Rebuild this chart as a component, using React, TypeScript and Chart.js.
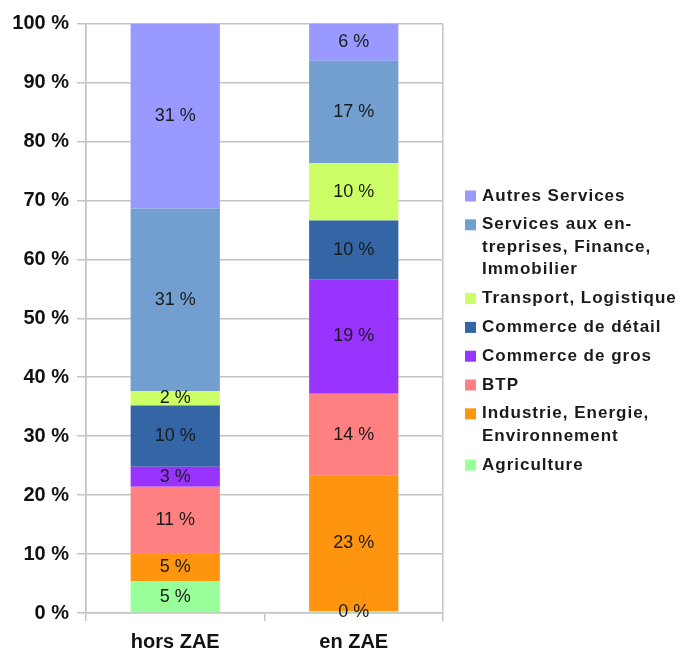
import React, { useEffect, useRef } from "react";
import { Chart, registerables } from "chart.js";

Chart.register(...registerables);

const categories = ["hors ZAE", "en ZAE"];

const sectorNames = [
  "Agriculture",
  "Industrie, Energie, Environnement",
  "BTP",
  "Commerce de gros",
  "Commerce de détail",
  "Transport, Logistique",
  "Services aux entreprises, Finance, Immobilier",
  "Autres Services",
];

const legendLines = [
  ["Agriculture"],
  ["Industrie, Energie,", "Environnement"],
  ["BTP"],
  ["Commerce de gros"],
  ["Commerce de détail"],
  ["Transport, Logistique"],
  ["Services aux en-", "treprises, Finance,", "Immobilier"],
  ["Autres Services"],
];

const sectorColors = [
  "#99ff99",
  "#ff950e",
  "#ff8080",
  "#9933ff",
  "#3465a4",
  "#ccff66",
  "#729fcf",
  "#9999ff",
];

// shares (%) per sector: [hors ZAE, en ZAE]
const agriculture = [5.4, 0.3];
const industrie = [4.7, 23.0];
const btp = [11.3, 13.9];
const commerceGros = [3.4, 19.4];
const commerceDetail = [10.4, 10.0];
const transport = [2.4, 9.7];
const servicesEntreprises = [31.0, 17.4];
const autresServices = [31.4, 6.3];

const seriesValues = [
  agriculture,
  industrie,
  btp,
  commerceGros,
  commerceDetail,
  transport,
  servicesEntreprises,
  autresServices,
];

const yTicks = [0, 10, 20, 30, 40, 50, 60, 70, 80, 90, 100];

const GRID = "#c4c4c4";

const valueLabelPlugin = {
  id: "valueLabels",
  afterDatasetsDraw(chart: any) {
    const ctx = chart.ctx;
    ctx.save();
    ctx.font = '18px "Liberation Sans"';
    ctx.fillStyle = "#1a1a1a";
    ctx.textAlign = "center";
    ctx.textBaseline = "middle";
    chart.data.datasets.forEach((ds: any, di: number) => {
      const meta = chart.getDatasetMeta(di);
      meta.data.forEach((el: any, i: number) => {
        const v = ds.data[i];
        const y = (el.y + el.base) / 2;
        ctx.fillText(`${Math.round(v)} %`, el.x, y);
      });
    });
    ctx.restore();
  },
};

const legendPlugin = {
  id: "sideLegend",
  afterDraw(chart: any) {
    const ctx = chart.ctx;
    ctx.save();
    ctx.font = 'bold 17px "Liberation Sans"';
    (ctx as any).letterSpacing = "1px";
    ctx.textAlign = "left";
    ctx.textBaseline = "middle";
    const boxX = chart.chartArea.right + 22;
    const textX = boxX + 17;
    let y = 196;
    const lineStep = 22.5;
    const gap = 6.3;
    for (let k = legendLines.length - 1; k >= 0; k--) {
      const lines = legendLines[k];
      ctx.fillStyle = sectorColors[k];
      ctx.fillRect(boxX, y - 5.5, 11, 11);
      ctx.fillStyle = "#1a1a1a";
      lines.forEach((ln, j) => {
        ctx.fillText(ln, textX, y + j * lineStep);
      });
      y += (lines.length - 1) * lineStep + lineStep + gap;
    }
    ctx.restore();
  },
};

export default function App() {
  const ref = useRef<HTMLCanvasElement | null>(null);
  useEffect(() => {
    document.body.style.margin = "0";
    const canvas = ref.current!;
    const chart = new Chart(canvas, {
      type: "bar",
      data: {
        labels: categories,
        datasets: seriesValues.map((vals, i) => ({
          label: sectorNames[i],
          data: vals,
          backgroundColor: sectorColors[i],
          borderWidth: 0,
          categoryPercentage: 1,
          barPercentage: 0.5,
        })),
      },
      options: {
        animation: false,
        responsive: false,
        layout: { padding: { top: 23.5, right: 239, left: 0, bottom: 0 } },
        plugins: {
          legend: { display: false },
          tooltip: { enabled: false },
        },
        scales: {
          x: {
            stacked: true,
            afterFit: (s: any) => {
              s.height = 36;
            },
            grid: {
              offset: true,
              drawOnChartArea: true,
              color: (c: any) => (c.index === 1 ? "rgba(0,0,0,0)" : GRID),
              tickColor: GRID,
              tickLength: 8,
              lineWidth: 1.5,
            },
            border: { display: true, color: GRID, width: 1.5 },
            ticks: {
              font: { family: "Liberation Sans", size: 20, weight: "bold" },
              color: "#111",
              padding: 9,
            },
          },
          y: {
            stacked: true,
            min: 0,
            max: 100,
            afterFit: (s: any) => {
              s.width = 86;
            },
            afterBuildTicks: (s: any) => {
              s.ticks = yTicks.map((v) => ({ value: v }));
            },
            grid: {
              color: GRID,
              lineWidth: 1.5,
              tickLength: 9,
            },
            border: { display: true, color: GRID, width: 1.5 },
            ticks: {
              font: { family: "Liberation Sans", size: 20, weight: "bold" },
              color: "#111",
              padding: 8,
              callback: (v: any) => `${v} %`,
            },
          },
        },
      },
      plugins: [valueLabelPlugin, legendPlugin],
    });
    return () => chart.destroy();
  }, []);
  return (
    <div style={{ width: 682, height: 649, background: "#fff" }}>
      <canvas ref={ref} width={682} height={649} style={{ display: "block" }} />
    </div>
  );
}
